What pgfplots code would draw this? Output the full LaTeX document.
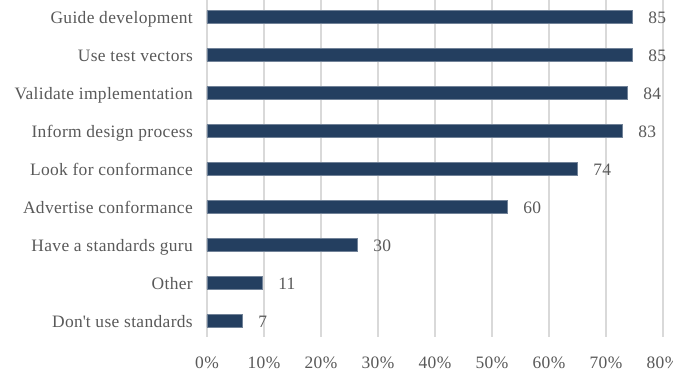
\documentclass[border=0pt]{standalone}
\usepackage{pgfplots}
\pgfplotsset{compat=1.18}
\usepackage{fontspec}
\setmainfont{Liberation Serif}[LetterSpace=2]
\definecolor{barc}{HTML}{243F60}
\definecolor{txt}{HTML}{595959}
\definecolor{gridc}{HTML}{D9D9D9}
\begin{document}
\begin{tikzpicture}
\useasboundingbox (-207bp,-38bp) rectangle (481bp,337bp);
\clip (-207bp,-38bp) rectangle (465bp,337bp);
\begin{axis}[
  at={(0bp,0bp)}, anchor=south west, scale only axis,
  width=456bp, height=337bp,
  xmin=0, xmax=80, ymin=-0.447, ymax=8.421, y dir=reverse,
  xbar, bar width=12.7bp, bar shift=0pt,
  xtick={0,10,...,80},
  /pgf/number format/assume math mode=true,
  xticklabel={\pgfmathprintnumber{\tick}\%},
  ytick={0,...,8},
  yticklabels={Guide development,Use test vectors,Validate implementation,Inform design process,Look for conformance,Advertise conformance,Have a standards guru,Other,Don\textquotesingle t use standards},
  major tick length=0pt,
  xmajorgrids, major grid style={draw=gridc, line width=1.5bp},
  axis line style={draw=none},
  tick label style={font=\fontsize{17.5}{20}\selectfont, text=txt},
  xticklabel style={anchor=base, inner sep=0pt, yshift=-31bp},
  yticklabel style={anchor=base east, inner sep=0pt, xshift=-14bp, yshift=-6.5bp},
  nodes near coords, point meta=explicit symbolic,
  nodes near coords style={anchor=base west, inner sep=0pt, xshift=16bp, yshift=-6.5bp, font=\fontsize{17.5}{20}\selectfont, text=txt},
]
\addplot[fill=barc, draw=barc!65!white, line width=0.6bp] coordinates {
  (74.56,0) [85]
  (74.56,1) [85]
  (73.68,2) [84]
  (72.81,3) [83]
  (64.91,4) [74]
  (52.63,5) [60]
  (26.32,6) [30]
  (9.65,7) [11]
  (6.14,8) [7]
};
\end{axis}
\end{tikzpicture}
\end{document}
